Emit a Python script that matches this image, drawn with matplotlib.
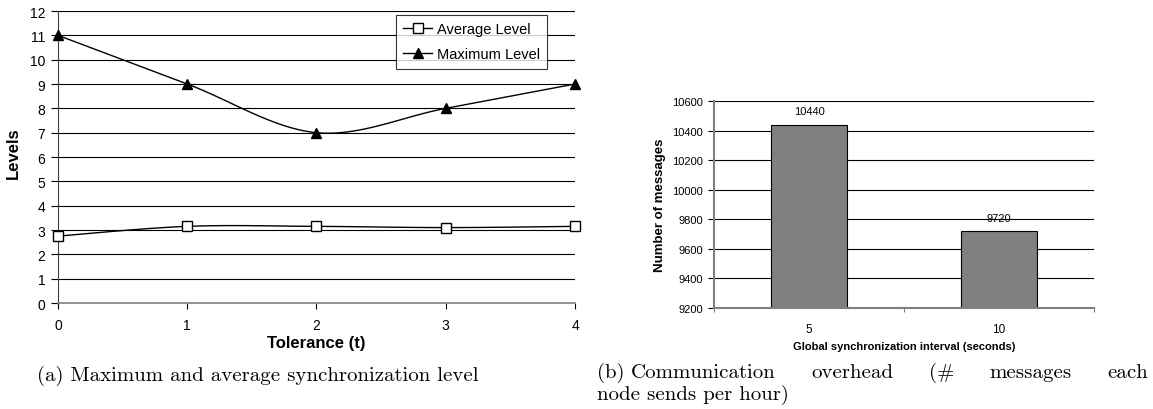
import numpy as np
import matplotlib
matplotlib.use('Agg')
import matplotlib.pyplot as plt

# data
tolerance = [0, 1, 2, 3, 4]
avg_level = [2.75, 3.15, 3.15, 3.1, 3.15]
max_level = [11, 9, 7, 8, 9]

intervals = ['5', '10']
messages = [10440, 9720]

caption_a = '(a) Maximum and average synchronization level'
caption_b1 = ['(b)', 'Communication', 'overhead', '(#', 'messages', 'each']
caption_b2 = 'node sends per hour)'

plt.rcParams['font.family'] = ['Liberation Sans', 'DejaVu Sans']


def smooth(x, y, n=30):
    # Excel style smoothed line (Catmull-Rom through the points)
    x = np.asarray(x, float)
    y = np.asarray(y, float)
    px = np.concatenate([[x[0]], x, [x[-1]]])
    py = np.concatenate([[y[0]], y, [y[-1]]])
    xs, ys = [], []
    t = np.linspace(0, 1, n)
    for i in range(1, len(px) - 2):
        b0x, b0y = px[i], py[i]
        b3x, b3y = px[i + 1], py[i + 1]
        b1x = b0x + (px[i + 1] - px[i - 1]) / 6
        b1y = b0y + (py[i + 1] - py[i - 1]) / 6
        b2x = b3x - (px[i + 2] - px[i]) / 6
        b2y = b3y - (py[i + 2] - py[i]) / 6
        xs.append((1-t)**3*b0x + 3*(1-t)**2*t*b1x + 3*(1-t)*t**2*b2x + t**3*b3x)
        ys.append((1-t)**3*b0y + 3*(1-t)**2*t*b1y + 3*(1-t)*t**2*b2y + t**3*b3y)
    return np.concatenate(xs), np.concatenate(ys)


fig = plt.figure(figsize=(11.53, 4.10), dpi=100)
W, H = 1153, 410

# ---- (a) levels vs tolerance ----
ax1 = fig.add_axes([0.0503, 0.2585, 0.4484, 0.7122])
for v in range(0, 13):
    ax1.axhline(v, color='black', lw=0.8, zorder=1)

sx, sy = smooth(tolerance, avg_level)
ax1.plot(sx, sy, color='black', lw=1, zorder=2)
ax1.plot(tolerance, avg_level, ls='none', marker='s', ms=7, mfc='white',
         mec='black', mew=1, zorder=3, clip_on=False)
sx, sy = smooth(tolerance, max_level)
ax1.plot(sx, sy, color='black', lw=1, zorder=2)
ax1.plot(tolerance, max_level, ls='none', marker='^', ms=7, mfc='black',
         mec='black', zorder=3, clip_on=False)

# legend proxies
h1, = ax1.plot([], [], color='black', lw=1, marker='s', ms=7, mfc='white', mec='black')
h2, = ax1.plot([], [], color='black', lw=1, marker='^', ms=7, mfc='black', mec='black')
leg = ax1.legend([h1, h2], ['Average Level', 'Maximum Level'], loc='upper right',
                 bbox_to_anchor=(0.946, 0.986), fontsize=10.5, frameon=True,
                 fancybox=False, edgecolor='black', handlelength=2.0,
                 handletextpad=0.3, borderpad=0.5, labelspacing=0.75, borderaxespad=0)
leg.get_frame().set_linewidth(0.8)

ax1.set_xlim(0, 4)
ax1.set_ylim(0, 12)
ax1.set_xticks(tolerance)
ax1.set_yticks(range(0, 13))
ax1.tick_params(axis='y', length=5, width=0.8, pad=4, labelsize=10, colors='black')
ax1.tick_params(axis='x', length=4, width=0.8, pad=7, labelsize=10)
for s in ['top', 'right']:
    ax1.spines[s].set_visible(False)
ax1.spines['left'].set_color('#404040')
ax1.spines['bottom'].set_color('#808080')
ax1.spines['bottom'].set_linewidth(1.2)
ax1.set_xlabel('Tolerance (t)', fontsize=12, fontweight='bold', va='center')
ax1.xaxis.set_label_coords(0.5, -0.134)
ax1.set_ylabel('Levels', fontsize=12, fontweight='bold', va='center')
ax1.yaxis.set_label_coords(-0.087, 0.517)

# ---- (b) communication overhead ----
ax2 = fig.add_axes([0.6193, 0.2463, 0.3296, 0.5049])
yt = np.arange(9200, 10601, 200)
for v in yt:
    ax2.axhline(v, color='black', lw=0.8, zorder=1)
xpos = np.arange(len(intervals))
bars = ax2.bar(xpos, messages, width=0.4, color='#808080', edgecolor='black',
               linewidth=0.8, zorder=2)
ax2.bar_label(bars, labels=[str(m) for m in messages], padding=6, fontsize=8)
ax2.set_xlim(-0.5, 1.5)
ax2.set_ylim(9200, 10600)
ax2.set_yticks(yt)
ax2.set_xticks(xpos)
ax2.set_xticklabels(intervals)
ax2.set_xticks([-0.5, 0.5, 1.5], minor=True)
ax2.tick_params(axis='x', which='major', length=0, pad=11, labelsize=8.5)
ax2.tick_params(axis='x', which='minor', length=3, width=0.8, color='#808080')
ax2.tick_params(axis='y', length=4, width=0.8, pad=4, labelsize=8)
for s in ['top', 'right']:
    ax2.spines[s].set_visible(False)
ax2.spines['left'].set_color('#808080')
ax2.spines['left'].set_linewidth(1.5)
ax2.spines['bottom'].set_color('#808080')
ax2.spines['bottom'].set_linewidth(1.5)
ax2.set_xlabel('Global synchronization interval (seconds)', fontsize=8,
               fontweight='bold', va='center')
ax2.xaxis.set_label_coords(0.5, -0.184)
ax2.set_ylabel('Number of messages', fontsize=9.5, fontweight='bold', va='center')
ax2.yaxis.set_label_coords(-0.142, 0.502)

# ---- captions ----
cap = dict(family='cmr10', fontsize=15, va='baseline', ha='left')
fig.text(37 / W, 1 - 381 / H, caption_a, **cap)

# first line of (b) is justified between x0 and x1
x0, x1 = 597, 1148
renderer = fig.canvas.get_renderer()
words = [fig.text(0, 1 - 378 / H, w, **cap) for w in caption_b1]
widths = [t.get_window_extent(renderer).width for t in words]
# "(b)" keeps a normal space after it
small = widths[0] * 0.25
gap = (x1 - x0 - sum(widths) - small) / (len(words) - 2)
pos = x0
for i, (t, w) in enumerate(zip(words, widths)):
    t.set_x(pos / W)
    pos += w + (small if i == 0 else gap)
fig.text(x0 / W, 1 - 400 / H, caption_b2, **cap)

fig.savefig('out.png', dpi=100)
